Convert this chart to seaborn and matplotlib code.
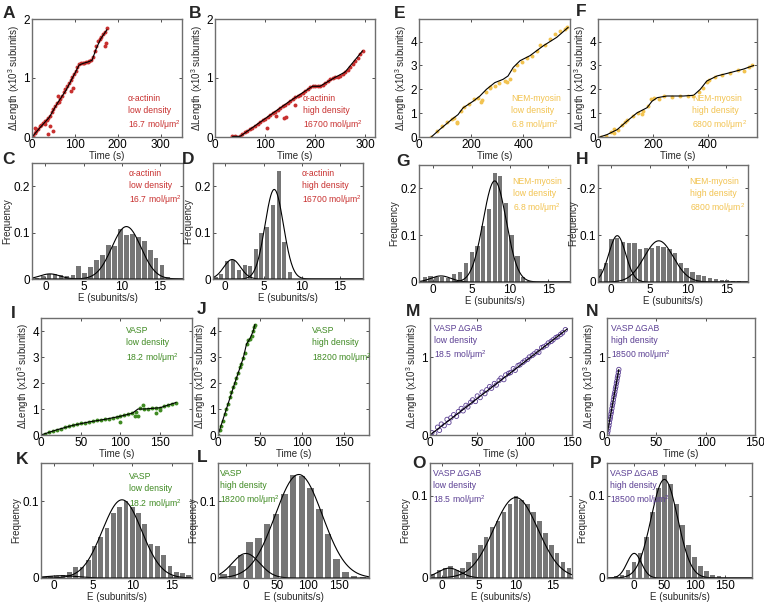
import numpy as np
import matplotlib
matplotlib.use("Agg")
import matplotlib.pyplot as plt
import seaborn as sns

sns.set_style("white")
plt.rcParams['font.family'] = ['Liberation Sans', 'DejaVu Sans']
plt.rcParams['mathtext.fontset'] = 'custom'
plt.rcParams['mathtext.rm'] = 'Liberation Sans'
plt.rcParams['mathtext.it'] = 'Liberation Sans:italic'

RED = "#c8302f"
YELLOW = "#f2c350"
GREEN = "#3f8a22"
PURPLE = "#5b3f93"
BAR = "#767676"

# ---- elongation traces ----
a_t = [2, 6, 10, 14, 18, 22, 26, 30, 34, 38, 42, 46, 50, 54, 58, 62, 66, 70, 74, 78, 82, 86, 90, 94,
       98, 102, 106, 110, 114, 118, 122, 126, 130, 134, 138, 142, 146, 150, 154, 158, 162, 166, 170, 174,
       8, 30, 38, 42, 48, 92, 96, 60, 170, 172]
a_len = [0.02, 0.06, 0.1, 0.14, 0.18, 0.21, 0.24, 0.27, 0.29, 0.32, 0.36, 0.42, 0.48, 0.53, 0.57, 0.6,
         0.64, 0.7, 0.76, 0.81, 0.86, 0.92, 0.97, 1.01, 1.06, 1.12, 1.18, 1.23, 1.25, 1.25, 1.26, 1.27,
         1.27, 1.28, 1.3, 1.36, 1.45, 1.55, 1.62, 1.66, 1.7, 1.74, 1.78, 1.84,
         0.15, 0.22, 0.05, 0.18, 0.1, 0.78, 0.83, 0.7, 1.55, 1.6]
a_fit_t = [0, 20, 40, 60, 80, 100, 110, 120, 130, 140, 150, 160, 175]
a_fit_len = [0, 0.17, 0.33, 0.58, 0.8, 1.08, 1.22, 1.25, 1.27, 1.3, 1.5, 1.66, 1.82]

b_t = [35, 40, 45, 50, 55, 60, 65, 70, 75, 80, 85, 90, 95, 100, 105, 110, 115, 120, 125, 130, 135, 140,
       145, 150, 155, 160, 165, 170, 175, 180, 185, 190, 195, 200, 205, 210, 215, 220, 225, 230, 235, 240,
       245, 250, 255, 260, 265, 270, 275, 280, 285, 290, 295,
       103, 122, 137, 142, 160]
b_len = [0.02, 0.01, 0.0, 0.02, 0.05, 0.08, 0.1, 0.13, 0.16, 0.19, 0.22, 0.25, 0.28, 0.31, 0.34, 0.37,
         0.4, 0.43, 0.46, 0.49, 0.52, 0.55, 0.58, 0.61, 0.64, 0.67, 0.69, 0.72, 0.75, 0.78, 0.81, 0.84,
         0.86, 0.87, 0.86, 0.86, 0.88, 0.92, 0.95, 0.98, 1.0, 1.01, 1.02, 1.04, 1.07, 1.1, 1.14, 1.19,
         1.24, 1.29, 1.34, 1.4, 1.46,
         0.15, 0.35, 0.33, 0.34, 0.55]
b_fit_t = [35, 50, 100, 150, 195, 210, 240, 260, 295]
b_fit_len = [0.01, 0.01, 0.31, 0.61, 0.86, 0.86, 1.01, 1.1, 1.46]

e_fit_t = [47, 79, 125, 150, 169, 208, 234, 259, 291, 323, 342, 362, 388, 426, 478, 529, 573]
e_fit_len = [0, 0.31, 0.73, 0.94, 1.22, 1.5, 1.72, 2.0, 2.28, 2.42, 2.56, 2.92, 3.2, 3.41, 3.83, 4.18, 4.6]
e_t = [48, 68, 87, 106, 126, 135, 145, 160, 174, 193, 213, 227, 242, 256, 271, 290, 309, 329, 338,
       348, 363, 377, 396, 416, 435, 454, 464, 483, 503, 522, 541, 561, 570, 237, 145, 271]
e_len = [0.0, 0.25, 0.45, 0.62, 0.75, 0.8, 0.62, 1.1, 1.25, 1.4, 1.6, 1.62, 1.55, 1.9, 2.1, 2.15, 2.25,
         2.35, 2.3, 2.45, 2.8, 3.0, 3.15, 3.3, 3.4, 3.6, 3.85, 3.85, 4.1, 4.3, 4.45, 4.55, 4.62, 1.45, 0.58, 2.05]

f_fit_t = [6, 33, 70, 105, 142, 179, 197, 216, 251, 312, 349, 373, 397, 434, 482, 531, 568]
f_fit_len = [0, 0.1, 0.31, 0.66, 1.01, 1.23, 1.5, 1.65, 1.72, 1.72, 1.75, 2.0, 2.35, 2.56, 2.7, 2.85, 3.0]
f_t = [10, 29, 48, 58, 73, 87, 97, 106, 126, 145, 164, 184, 193, 203, 222, 242, 271, 300, 329, 348,
       367, 382, 396, 406, 425, 454, 483, 512, 532, 551, 561, 58, 160]
f_len = [0.0, 0.05, 0.2, 0.15, 0.3, 0.5, 0.65, 0.72, 0.9, 1.0, 1.1, 1.3, 1.6, 1.62, 1.6, 1.7, 1.68, 1.7,
         1.72, 1.7, 1.9, 2.05, 2.3, 2.4, 2.5, 2.62, 2.7, 2.8, 2.75, 2.95, 3.0, 0.35, 0.95]

i_t = [0, 5, 10, 15, 20, 25, 30, 35, 40, 45, 50, 55, 60, 65, 70, 75, 80, 85, 90, 95, 100, 105, 110, 115,
       120, 125, 130, 135, 140, 145, 150, 155, 160, 165, 170, 100, 118, 122, 128, 145, 150]
i_len = [0, 0.05, 0.1, 0.15, 0.2, 0.25, 0.3, 0.33, 0.37, 0.41, 0.45, 0.48, 0.5, 0.53, 0.57, 0.59, 0.6,
         0.62, 0.65, 0.69, 0.72, 0.76, 0.8, 0.84, 0.9, 1.05, 1.0, 1.01, 1.02, 1.04, 1.05, 1.1, 1.15, 1.2,
         1.25, 0.5, 0.75, 0.72, 1.15, 0.85, 0.95]
i_fit_t = [0, 20, 40, 60, 80, 100, 115, 122, 130, 150, 170]
i_fit_len = [0, 0.2, 0.37, 0.5, 0.6, 0.72, 0.84, 1.0, 1.0, 1.05, 1.25]

j_t = [0, 2, 4, 6, 8, 10, 12, 14, 16, 18, 20, 22, 24, 26, 28, 30, 32, 34, 36, 38, 40, 42, 43, 44]
j_len = [0, 0.2, 0.35, 0.55, 0.8, 1.0, 1.2, 1.45, 1.65, 1.85, 2.0, 2.2, 2.4, 2.6, 2.75, 2.95, 3.15, 3.5,
         3.65, 3.7, 3.8, 4.0, 4.15, 4.25]
j_fit_t = [0, 10, 20, 30, 34, 38, 42, 44]
j_fit_len = [0, 1.0, 2.0, 2.95, 3.5, 3.7, 4.0, 4.25]

m_t = [2, 5, 8, 10, 12, 15, 18, 20, 22, 25, 28, 30, 33, 35, 38, 40, 43, 45, 48, 50, 53, 55, 58, 60, 63,
       65, 68, 70, 73, 75, 78, 80, 83, 85, 88, 90, 93, 95, 98, 100, 103, 105, 108, 110, 113, 115, 118, 120,
       123, 125, 128, 130, 133, 135, 138, 140, 143]
m_len = [0.03, 0.02, 0.1, 0.06, 0.14, 0.12, 0.2, 0.16, 0.22, 0.26, 0.24, 0.3, 0.34, 0.31, 0.38, 0.36,
         0.42, 0.45, 0.43, 0.5, 0.48, 0.55, 0.53, 0.58, 0.62, 0.6, 0.66, 0.64, 0.7, 0.73, 0.71, 0.77, 0.79,
         0.8, 0.85, 0.83, 0.89, 0.9, 0.93, 0.95, 0.97, 1.0, 1.02, 1.04, 1.07, 1.06, 1.12, 1.13, 1.15, 1.18,
         1.2, 1.22, 1.25, 1.26, 1.29, 1.31, 1.35]
m_fit_t = [0, 145]
m_fit_len = [0, 1.36]

n_t = [0.5, 1, 1.5, 2, 2.5, 3, 3.5, 4, 4.5, 5, 5.5, 6, 6.5, 7, 7.5, 8, 8.5, 9, 9.5, 10, 10.5, 11, 11.5, 12]
n_len = [0.02, 0.05, 0.09, 0.12, 0.16, 0.2, 0.23, 0.27, 0.3, 0.34, 0.38, 0.41, 0.45, 0.49, 0.52, 0.55,
         0.59, 0.62, 0.66, 0.69, 0.73, 0.76, 0.8, 0.84]
n_fit_t = [0, 12]
n_fit_len = [0, 0.84]

# ---- elongation-rate histograms (bin centres, frequency, gaussian fits amp/mu/sigma) ----
c_e = [-1.1, -0.32, 0.46, 1.24, 2.02, 2.8, 3.58, 4.36, 5.14, 5.92, 6.7, 7.48, 8.26, 9.04, 9.82, 10.6,
       11.38, 12.16, 12.94, 13.72, 14.5, 15.28, 16.06]
c_freq = [0.002, 0.006, 0.01, 0.01, 0.008, 0.006, 0.008, 0.027, 0.013, 0.025, 0.04, 0.052, 0.073, 0.072,
          0.107, 0.094, 0.097, 0.09, 0.082, 0.062, 0.045, 0.03, 0.005]
c_fit = [(0.011, 0.6, 1.3), (0.113, 10.6, 1.9)]

d_e = [-1.27, -0.52, 0.26, 1.0, 1.79, 2.53, 3.28, 3.97, 4.7, 5.46, 6.24, 6.99, 7.69, 8.43]
d_freq = [0.005, 0.01, 0.038, 0.04, 0.02, 0.03, 0.028, 0.065, 0.1, 0.112, 0.16, 0.232, 0.08, 0.016]
d_fit = [(0.042, 0.9, 1.1), (0.193, 6.4, 1.2)]

g_e = [-1.09, -0.35, 0.43, 1.17, 1.96, 2.7, 3.48, 4.26, 5.0, 5.78, 6.52, 7.26, 7.96, 8.7, 9.43, 10.2,
       10.96, 11.7, 12.48]
g_freq = [0.01, 0.012, 0.01, 0.01, 0.008, 0.017, 0.022, 0.04, 0.065, 0.077, 0.12, 0.157, 0.232, 0.226,
          0.168, 0.1, 0.055, 0.01, 0.003]
g_fit = [(0.013, 1.0, 1.3), (0.216, 8.0, 1.5)]

h_e = [-1.47, -0.69, 0.04, 0.78, 1.55, 2.28, 3.02, 3.79, 4.57, 5.3, 6.03, 6.81, 7.59, 8.32, 9.05, 9.83,
       10.6, 11.34, 12.07, 12.84, 13.62, 14.35, 15.09, 15.86, 16.64]
h_freq = [0.027, 0.04, 0.092, 0.095, 0.086, 0.083, 0.083, 0.07, 0.072, 0.073, 0.076, 0.075, 0.07, 0.063,
          0.04, 0.03, 0.022, 0.015, 0.012, 0.008, 0.006, 0.004, 0.004, 0.003, 0.002]
h_fit = [(0.099, 0.8, 1.1), (0.088, 6.2, 1.9)]

k_e = [-1.2, -0.4, 0.4, 1.2, 2.0, 2.8, 3.6, 4.4, 5.2, 6.0, 6.8, 7.6, 8.4, 9.2, 10.0, 10.8, 11.6, 12.4,
       13.2, 14.0, 14.8, 15.6, 16.4, 17.2]
k_freq = [0.001, 0.002, 0.002, 0.004, 0.008, 0.014, 0.015, 0.024, 0.042, 0.054, 0.065, 0.085, 0.093, 0.1,
          0.093, 0.085, 0.07, 0.045, 0.042, 0.03, 0.016, 0.008, 0.006, 0.004]
k_fit = [(0.003, 1.0, 2.0), (0.102, 8.7, 2.5)]

l_e = [-36, -22, -8, 6, 20, 34, 48, 62, 76, 90, 104, 118, 132, 146, 160, 174, 188]
l_freq = [0.005, 0.016, 0.03, 0.047, 0.052, 0.07, 0.084, 0.11, 0.135, 0.133, 0.117, 0.09, 0.057, 0.025,
          0.008, 0.003, 0.001]
l_fit = [(0.032, 0.0, 22.0), (0.135, 85.0, 38.0)]

o_e = [-1.2, -0.4, 0.4, 1.2, 2.0, 2.8, 3.6, 4.4, 5.2, 6.0, 6.8, 7.6, 8.4, 9.2, 10.0, 10.8, 11.6, 12.4,
       13.2, 14.0, 14.8, 15.6, 16.4, 17.2]
o_freq = [0.005, 0.01, 0.012, 0.015, 0.01, 0.012, 0.02, 0.03, 0.04, 0.05, 0.062, 0.07, 0.08, 0.09, 0.1,
          0.095, 0.09, 0.08, 0.07, 0.055, 0.04, 0.03, 0.02, 0.012]
o_fit = [(0.012, 1.0, 1.5), (0.098, 10.0, 3.0)]

p_e = [-30, -20, -10, 0, 10, 20, 30, 40, 50, 60, 70, 80, 90, 100, 110, 120, 130, 140]
p_freq = [0.002, 0.004, 0.01, 0.02, 0.03, 0.05, 0.08, 0.11, 0.125, 0.115, 0.09, 0.065, 0.04, 0.025,
          0.015, 0.008, 0.004, 0.002]
p_fit = [(0.03, 0.0, 12.0), (0.12, 50.0, 22.0)]

W, H = 764, 603
fig = plt.figure(figsize=(W / 100, H / 100), dpi=100)


def make_ax(l, t, r, b):
    return fig.add_axes([l / W, 1 - b / H, (r - l) / W, (b - t) / H])


def style(ax):
    ax.tick_params(direction='in', top=True, right=True, length=2.5, width=0.6,
                   labelsize=8.5, pad=1.5, bottom=True, left=True, colors='#333333')
    ax.tick_params(labelcolor='black')
    for s in ax.spines.values():
        s.set_color('#6e6e6e')
        s.set_linewidth(1.0)


def note(ax, txt, color, x, y, va='bottom'):
    ax.text(x, y, txt, transform=ax.transAxes, color=color, fontsize=6.2, ha='left', va=va,
            linespacing=1.4)


def trace(box, t, ln, ft, fl, color, xlim, ylim, xticks, yticks, txt, tpos, hollow=False):
    ax = make_ax(*box)
    if hollow:
        sns.scatterplot(x=t, y=ln, ax=ax, s=10, facecolor='none', edgecolor=color, linewidth=0.6)
    else:
        sns.scatterplot(x=t, y=ln, ax=ax, s=8, color=color, linewidth=0)
    sns.lineplot(x=ft, y=fl, ax=ax, color='black', lw=0.8, sort=False, estimator=None)
    ax.set_xlim(*xlim)
    ax.set_ylim(*ylim)
    ax.set_xticks(xticks)
    ax.set_yticks(yticks)
    ax.set_xlabel('Time (s)', fontsize=7, labelpad=0)
    ax.set_ylabel('ΔLength (x10$^3$ subunits)', fontsize=7, labelpad=1)
    style(ax)
    note(ax, txt, color, *tpos)
    return ax


def hist(box, e, freq, fits, color, xlim, ylim, xticks, yticks, txt, tpos):
    ax = make_ax(*box)
    width = e[1] - e[0]
    edges = [e[0] - width / 2] + [c + width / 2 for c in e]
    sns.histplot(x=e, weights=freq, bins=edges, ax=ax, color=BAR, alpha=1, shrink=0.75,
                 edgecolor='none', linewidth=0)
    xs = np.linspace(xlim[0], xlim[1], 300)
    for amp, mu, sig in fits:
        sns.lineplot(x=xs, y=amp * np.exp(-(xs - mu) ** 2 / (2 * sig ** 2)), ax=ax,
                     color='black', lw=0.8)
    ax.set_xlim(*xlim)
    ax.set_ylim(*ylim)
    ax.set_xticks(xticks)
    ax.set_yticks(yticks)
    ax.set_yticklabels([('0' if v == 0 else f'{v:g}') for v in yticks])
    ax.set_xlabel('E (subunits/s)', fontsize=7, labelpad=0)
    ax.set_ylabel('Frequency', fontsize=7, labelpad=1)
    style(ax)
    note(ax, txt, color, *tpos, va='top')
    return ax


mum = 'mol/μm$^2$'
trace((32, 19, 182, 137), a_t, a_len, a_fit_t, a_fit_len, RED, (0, 350), (0, 2), [0, 100, 200, 300],
      [0, 1, 2], 'α-actinin\nlow density\n16.7 ' + mum, (0.64, 0.04))
trace((215, 19, 375, 137), b_t, b_len, b_fit_t, b_fit_len, RED, (0, 320), (0, 2), [0, 100, 200, 300],
      [0, 1, 2], 'α-actinin\nhigh density\n16700 ' + mum, (0.55, 0.04))
trace((419, 19, 570, 137), e_t, e_len, e_fit_t, e_fit_len, YELLOW, (0, 580), (0, 4.95), [0, 200, 400],
      [0, 1, 2, 3, 4], 'NEM-myosin\nlow density\n6.8 ' + mum, (0.61, 0.04))
trace((598, 19, 757, 137), f_t, f_len, f_fit_t, f_fit_len, YELLOW, (0, 580), (0, 4.95), [0, 200, 400],
      [0, 1, 2, 3, 4], 'NEM-myosin\nhigh density\n6800 ' + mum, (0.59, 0.04))

hist((32, 163, 183, 279), c_e, c_freq, c_fit, RED, (-1.75, 18), (0, 0.25), [0, 5, 10, 15], [0, 0.1, 0.2],
     'α-actinin\nlow density\n16.7 ' + mum, (0.64, 0.95))
hist((213, 163, 363, 279), d_e, d_freq, d_fit, RED, (-1.6, 18), (0, 0.25), [0, 5, 10, 15], [0, 0.1, 0.2],
     'α-actinin\nhigh density\n16700 ' + mum, (0.59, 0.95))
hist((419, 165, 570, 282), g_e, g_freq, g_fit, YELLOW, (-1.85, 17.8), (0, 0.25), [0, 5, 10, 15],
     [0, 0.1, 0.2], 'NEM-myosin\nlow density\n6.8 ' + mum, (0.62, 0.9))
hist((598, 165, 748, 282), h_e, h_freq, h_fit, YELLOW, (-1.7, 17.8), (0, 0.25), [0, 5, 10, 15],
     [0, 0.1, 0.2], 'NEM-myosin\nhigh density\n6800 ' + mum, (0.61, 0.9))

trace((41, 318, 192, 435), i_t, i_len, i_fit_t, i_fit_len, GREEN, (0, 190), (0, 4.5), [0, 50, 100, 150],
      [0, 1, 2, 3, 4], 'VASP\nlow density\n18.2 ' + mum, (0.56, 0.6))
trace((218, 318, 369, 435), j_t, j_len, j_fit_t, j_fit_len, GREEN, (0, 180), (0, 4.5), [0, 50, 100, 150],
      [0, 1, 2, 3, 4], 'VASP\nhigh density\n18200 ' + mum, (0.62, 0.6))
trace((430, 318, 572, 435), m_t, m_len, m_fit_t, m_fit_len, PURPLE, (0, 150), (0, 1.5), [0, 50, 100, 150],
      [0, 1], 'VASP ΔGAB\nlow density\n18.5 ' + mum, (0.03, 0.62), hollow=True)
trace((607, 318, 755, 435), n_t, n_len, n_fit_t, n_fit_len, PURPLE, (0, 150), (0, 1.5), [0, 50, 100, 150],
      [0, 1], 'VASP ΔGAB\nhigh density\n18500 ' + mum, (0.03, 0.62), hollow=True)

hist((41, 463, 192, 578), k_e, k_freq, k_fit, GREEN, (-1.6, 17.6), (0, 0.15), [0, 5, 10, 15], [0, 0.1],
     'VASP\nlow density\n18.2 ' + mum, (0.58, 0.92))
hist((218, 463, 369, 578), l_e, l_freq, l_fit, GREEN, (-45, 198), (0, 0.15), [0, 50, 100, 150], [0, 0.1],
     'VASP\nhigh density\n18200 ' + mum, (0.015, 0.95))
hist((430, 463, 572, 578), o_e, o_freq, o_fit, PURPLE, (-1.6, 17.6), (0, 0.14), [0, 5, 10, 15], [0, 0.1],
     'VASP ΔGAB\nlow density\n18.5 ' + mum, (0.02, 0.95))
hist((607, 463, 752, 578), p_e, p_freq, p_fit, PURPLE, (-45, 195), (0, 0.14), [0, 50, 100, 150], [0, 0.1],
     'VASP ΔGAB\nhigh density\n18500 ' + mum, (0.02, 0.95))

letters = [('A', 3, 6), ('B', 189, 6), ('E', 394, 6), ('F', 576, 4), ('C', 2, 152), ('D', 182, 152),
           ('G', 396, 154), ('H', 576, 152), ('I', 11, 306), ('J', 197, 302), ('M', 406, 304),
           ('N', 586, 304), ('K', 16, 452), ('L', 197, 450), ('O', 412, 456), ('P', 590, 456)]
for lab, x, y in letters:
    fig.text(x / W, 1 - y / H, lab, fontsize=12.5, fontweight='bold', ha='left', va='top')

fig.savefig('out.png', dpi=100)
